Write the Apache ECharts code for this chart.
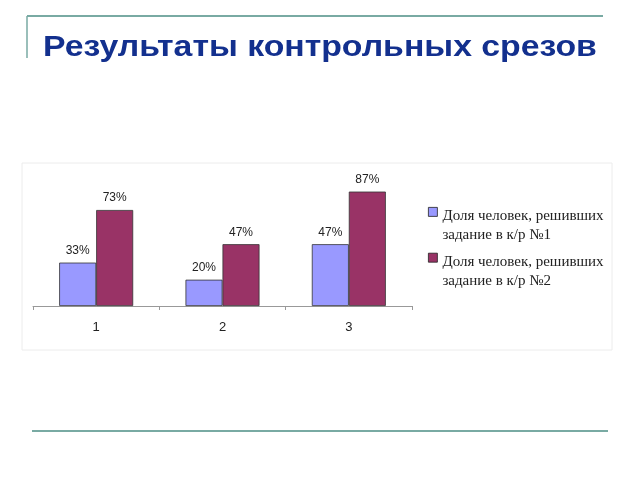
<!DOCTYPE html>
<html><head><meta charset="utf-8">
<script src="https://cdn.jsdelivr.net/npm/echarts@6/dist/echarts.min.js"></script>
<style>html,body{margin:0;padding:0;background:#fff}#c{width:640px;height:480px}</style>
</head><body><div id="c"></div>
<script>
const titleText = 'Результаты контрольных срезов';
const categories = ['1', '2', '3'];
const seriesNames = ['Доля человек, решивших\nзадание в к/р №1', 'Доля человек, решивших\nзадание в к/р №2'];
const test1 = [33, 20, 47];
const test2 = [73, 47, 87];

const chart = echarts.init(document.getElementById('c'), null, {renderer: 'canvas'});
const teal = '#79aaa3';
const labelCfg = {show: true, position: 'top', distance: 6, formatter: '{c}%', color: '#222', fontFamily: 'Arial, Liberation Sans', fontSize: 12};
chart.setOption({
  animation: false,
  backgroundColor: '#fff',
  graphic: [
    {type: 'line', shape: {x1: 27, y1: 16, x2: 603, y2: 16}, style: {stroke: teal, lineWidth: 2}},
    {type: 'line', shape: {x1: 27, y1: 16, x2: 27, y2: 58}, style: {stroke: teal, lineWidth: 1.5}},
    {type: 'line', shape: {x1: 32, y1: 431, x2: 608, y2: 431}, style: {stroke: teal, lineWidth: 2}},
    {type: 'rect', shape: {x: 22, y: 163, width: 590, height: 187}, style: {fill: 'none', stroke: '#ececec', lineWidth: 1}, z: -1},
    {type: 'text', x: 43, y: 48, scaleX: 1.165, style: {text: titleText, fill: '#13308e', font: 'bold 29px Arial, "Liberation Sans"', verticalAlign: 'middle', align: 'left'}}
  ],
  legend: {
    orient: 'vertical', left: 425, top: 206, padding: 0, itemWidth: 12, itemHeight: 38, itemGap: 7,
    icon: 'path://M3,1 L12,1 L12,10 L3,10 Z M0,0 M0,38',
    itemStyle: {borderColor: '#222', borderWidth: 0.8},
    textStyle: {fontFamily: 'Liberation Serif, Times New Roman', fontSize: 15, color: '#222', lineHeight: 19},
    align: 'left'
  },
  grid: {left: 33, right: 228, top: 174.5, bottom: 174, containLabel: false},
  xAxis: {type: 'category', data: categories,
    axisLine: {lineStyle: {color: '#999'}}, axisTick: {show: true, length: 4, lineStyle: {color: '#999'}},
    axisLabel: {color: '#222', fontFamily: 'Arial, Liberation Sans', fontSize: 13, margin: 15}},
  yAxis: {type: 'value', min: 0, max: 100, show: false, splitLine: {show: false}},
  series: [
    {name: seriesNames[0], type: 'bar', data: test1, barWidth: 37, barGap: '0%', itemStyle: {color: '#9999ff', borderColor: '#333', borderWidth: 0.8}, label: labelCfg},
    {name: seriesNames[1], type: 'bar', data: test2, barWidth: 37, barGap: '0%', itemStyle: {color: '#993366', borderColor: '#333', borderWidth: 0.8}, label: labelCfg}
  ]
});
</script></body></html>
